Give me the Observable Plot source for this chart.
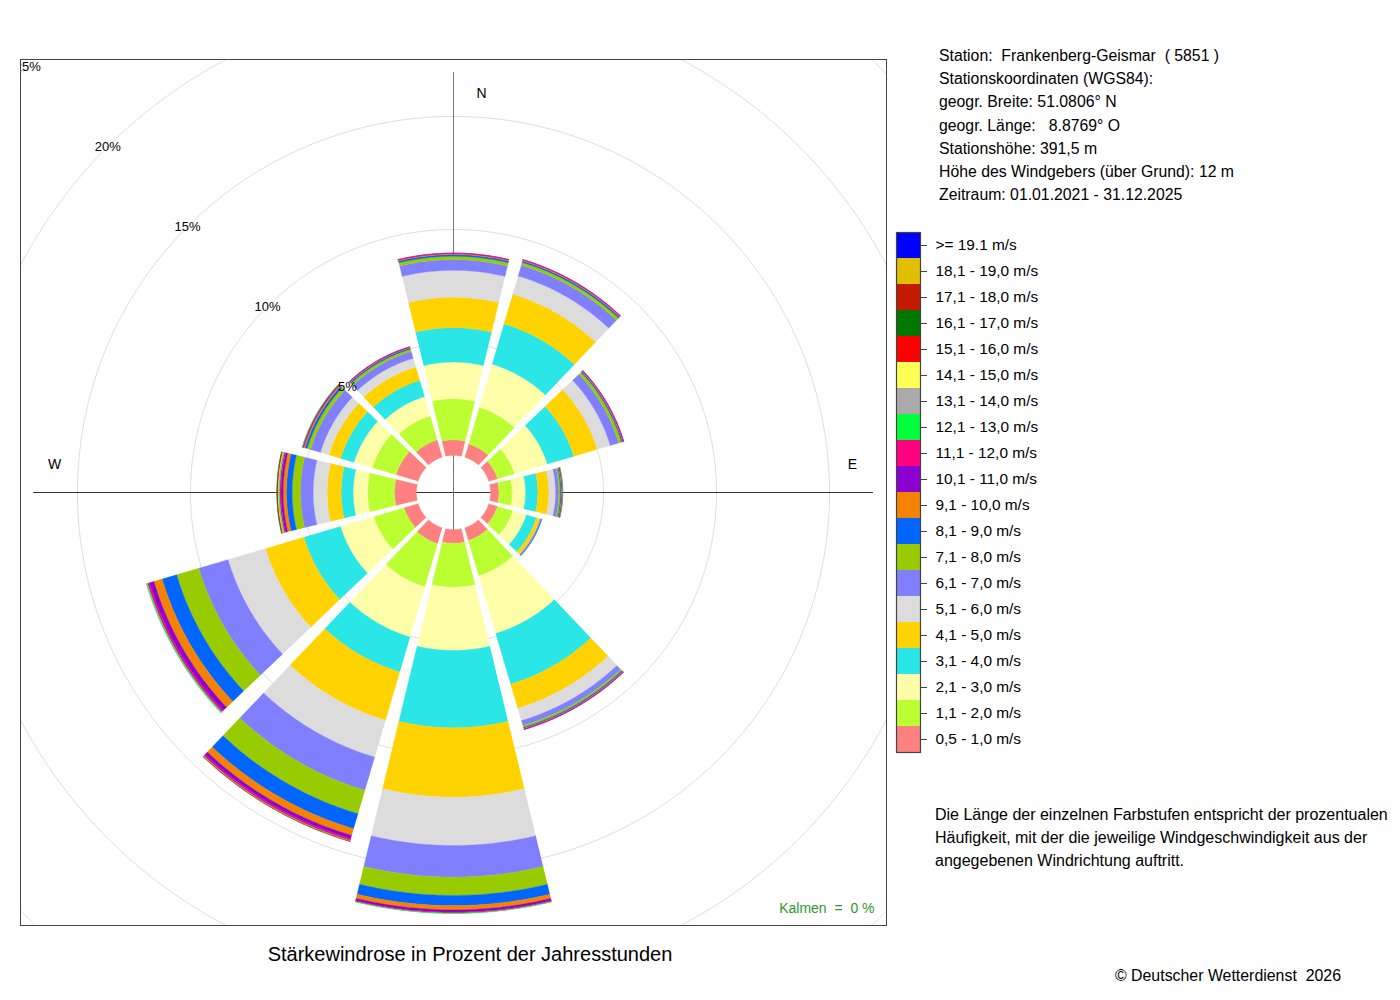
<!DOCTYPE html>
<html>
<head>
<meta charset="utf-8">
<script src="https://cdn.jsdelivr.net/npm/d3@7"></script>
<script src="https://cdn.jsdelivr.net/npm/@observablehq/plot@0.6"></script>
<style>
  html, body { margin: 0; padding: 0; background: #fff; }
  body { font-family: "Liberation Sans", Arial, Helvetica, sans-serif; color: #000; }
  #wrap { position: relative; width: 1400px; height: 1000px; overflow: hidden; background: #fff; }
  #rose, #legend { position: absolute; }
  #rose { left: 0; top: 0; }
  #legend { left: 890px; top: 228px; }
  .abs { position: absolute; white-space: pre; color: #000; }
  svg text { white-space: pre; }
</style>
</head>
<body>
<div id="wrap">
  <div id="rose"></div>
  <div id="legend"></div>
  <div class="abs" id="info" style="left:939px; top:44px; font-size:15.8px; line-height:23.2px;"></div>
  <div class="abs" id="note" style="left:935px; top:803px; font-size:16px; line-height:23px;"></div>
  <div class="abs" id="title" style="left:0; width:940px; text-align:center; top:942px; font-size:20px; line-height:24px;"></div>
  <div class="abs" id="copy" style="right:59px; top:966px; font-size:15.9px; line-height:20px;"></div>
</div>
<script>
// ---------------- data ----------------
const directions = ["N", "NNO", "ONO", "O", "OSO", "SSO", "S", "SSW", "WSW", "W", "WNW", "NNW"];
const directionAngles = [0, 30, 60, 90, 120, 150, 180, 210, 240, 270, 300, 330];

const classes = [
  "0,5 - 1,0 m/s", "1,1 - 2,0 m/s", "2,1 - 3,0 m/s", "3,1 - 4,0 m/s", "4,1 - 5,0 m/s",
  "5,1 - 6,0 m/s", "6,1 - 7,0 m/s", "7,1 - 8,0 m/s", "8,1 - 9,0 m/s", "9,1 - 10,0 m/s",
  "10,1 - 11,0 m/s", "11,1 - 12,0 m/s", "12,1 - 13,0 m/s", "13,1 - 14,0 m/s", "14,1 - 15,0 m/s",
  "15,1 - 16,0 m/s", "16,1 - 17,0 m/s", "17,1 - 18,0 m/s", "18,1 - 19,0 m/s", ">= 19.1 m/s"
];
const classColors = [
  "#FF8080", "#BBFF33", "#FFFFAA", "#2AE6E6", "#FFD200",
  "#DCDCDC", "#8080FF", "#99CC00", "#0066FF", "#F58200",
  "#8C00D2", "#FF0080", "#00FF3C", "#AAAAAA", "#FFFF55",
  "#FF0000", "#007800", "#C41A00", "#E0BE00", "#0000FF"
];

// percent of hours per speed class, in direction order N ... NNW
const s01 = [0.69, 0.61, 0.40, 0.37, 0.40, 0.58, 0.61, 0.73, 0.65, 0.97, 1.02, 0.80];
const s02 = [1.82, 1.69, 0.79, 0.59, 0.71, 1.63, 1.94, 2.00, 1.39, 1.19, 1.10, 1.10];
const s03 = [1.62, 1.99, 1.51, 0.59, 0.62, 2.66, 2.80, 2.31, 1.54, 0.64, 0.84, 0.89];
const s04 = [1.52, 1.86, 1.22, 0.54, 0.46, 2.34, 3.42, 1.61, 1.69, 0.53, 0.62, 0.75];
const s05 = [1.35, 1.37, 1.08, 0.49, 0.16, 1.11, 3.07, 2.23, 1.77, 0.62, 0.54, 0.62];
const s06 = [1.19, 0.84, 0.60, 0.30, 0.02, 0.57, 2.14, 1.70, 1.73, 0.62, 0.39, 0.40];
const s07 = [0.47, 0.49, 0.39, 0.14, 0.05, 0.23, 1.40, 1.53, 1.35, 0.56, 0.45, 0.31];
const s08 = [0.15, 0.13, 0.13, 0.07, 0.01, 0.08, 0.81, 1.08, 1.02, 0.37, 0.16, 0.11];
const s09 = [0.08, 0.07, 0.05, 0.04, 0.01, 0.05, 0.45, 0.69, 0.67, 0.25, 0.10, 0.06];
const s10 = [0.04, 0.04, 0.03, 0.03, 0.00, 0.03, 0.19, 0.31, 0.38, 0.15, 0.06, 0.03];
const s11 = [0.02, 0.02, 0.02, 0.02, 0.00, 0.02, 0.10, 0.15, 0.20, 0.09, 0.04, 0.02];
const s12 = [0.01, 0.01, 0.01, 0.01, 0.00, 0.01, 0.04, 0.08, 0.09, 0.06, 0.02, 0.01];
const s13 = [0.00, 0.00, 0.00, 0.01, 0.00, 0.00, 0.02, 0.03, 0.05, 0.04, 0.01, 0.00];
const s14 = [0.00, 0.00, 0.00, 0.00, 0.00, 0.00, 0.00, 0.01, 0.01, 0.03, 0.00, 0.00];
const s15 = [0.00, 0.00, 0.00, 0.00, 0.00, 0.00, 0.00, 0.00, 0.00, 0.02, 0.00, 0.00];
const s16 = [0.00, 0.00, 0.00, 0.00, 0.00, 0.00, 0.00, 0.01, 0.00, 0.03, 0.00, 0.00];
const s17 = [0.00, 0.00, 0.00, 0.00, 0.00, 0.00, 0.00, 0.00, 0.00, 0.01, 0.00, 0.00];
const s18 = [0.00, 0.00, 0.00, 0.00, 0.00, 0.00, 0.00, 0.00, 0.00, 0.00, 0.00, 0.00];
const s19 = [0.00, 0.00, 0.00, 0.00, 0.00, 0.00, 0.00, 0.00, 0.00, 0.00, 0.00, 0.00];
const s20 = [0.00, 0.00, 0.00, 0.00, 0.00, 0.00, 0.00, 0.00, 0.00, 0.00, 0.00, 0.00];
const seriesByClass = [s01, s02, s03, s04, s05, s06, s07, s08, s09, s10,
                       s11, s12, s13, s14, s15, s16, s17, s18, s19, s20];

const gridPercents = [5, 10, 15, 20, 25];
const compassNS = [{label: "N", angle: 0}];
const compassEW = [{label: "E", angle: 90}, {label: "W", angle: 270}];
const calmText = "Kalmen  =  0 %";

const infoLines = [
  "Station:  Frankenberg-Geismar  ( 5851 )",
  "Stationskoordinaten (WGS84):",
  "geogr. Breite: 51.0806° N",
  "geogr. Länge:   8.8769° O",
  "Stationshöhe: 391,5 m",
  "Höhe des Windgebers (über Grund): 12 m",
  "Zeitraum: 01.01.2021 - 31.12.2025"
];
const noteLines = [
  "Die Länge der einzelnen Farbstufen entspricht der prozentualen",
  "Häufigkeit, mit der die jeweilige Windgeschwindigkeit aus der",
  "angegebenen Windrichtung auftritt."
];
const titleText = "Stärkewindrose in Prozent der Jahresstunden";
const copyText = "© Deutscher Wetterdienst  2026";

// ---------------- geometry (in percent units) ----------------
const HOLE = 1.64;       // empty centre radius
const EXTENT = 19.16;    // half width of the square frame
const AXIS = 18.58;      // half length of the cross lines
const SECTOR_HALF = 15, GAP_HALF = 1.4, EDGE_OFFSET = 0.035;
const rad = Math.PI / 180;
const halfAngle = r => SECTOR_HALF - GAP_HALF - Math.asin(Math.min(1, EDGE_OFFSET / r)) / rad;
const polar = (r, a) => ({x: r * Math.sin(a * rad), y: r * Math.cos(a * rad)});

const bandPoints = [];
directions.forEach((dir, i) => {
  let cum = HOLE;
  classes.forEach((cls, k) => {
    const v = seriesByClass[k][i];
    if (!(v > 0)) return;
    const r0 = cum, r1 = cum + v;
    cum = r1;
    const id = dir + "|" + k;
    const c = directionAngles[i];
    const h1 = halfAngle(r1), h0 = halfAngle(r0);
    const n = 60;
    for (let j = 0; j <= n; j++) {
      const p = polar(r1, c - h1 + (2 * h1 * j) / n);
      bandPoints.push({id, cls, dir, x: p.x, y: p.y});
    }
    for (let j = n; j >= 0; j--) {
      const p = polar(r0, c - h0 + (2 * h0 * j) / n);
      bandPoints.push({id, cls, dir, x: p.x, y: p.y});
    }
  });
});

const circlePoints = [];
gridPercents.forEach(p => {
  for (let a = 0; a <= 360; a += 1) {
    const q = polar(HOLE + p, a);
    circlePoints.push({p, x: q.x, y: q.y});
  }
});

// ---------------- main rose ----------------
const font = '"Liberation Sans", Arial, Helvetica, sans-serif';
const rose = Plot.plot({
  width: 1400,
  height: 1000,
  marginLeft: 20,
  marginRight: 514,
  marginTop: 59,
  marginBottom: 75,
  style: {fontFamily: font, background: "transparent", color: "#000", overflow: "visible"},
  x: {domain: [-EXTENT, EXTENT], axis: null},
  y: {domain: [-EXTENT, EXTENT], axis: null},
  color: {type: "ordinal", domain: classes, range: classColors},
  marks: [
    Plot.line(circlePoints, {x: "x", y: "y", z: "p", stroke: "#dedede", strokeWidth: 1, clip: true}),
    Plot.ruleY([0], {x1: -AXIS, x2: AXIS, stroke: "#333", strokeWidth: 1}),
    Plot.ruleX([0], {y1: -AXIS, y2: AXIS, stroke: "#777", strokeWidth: 1}),
    Plot.line(bandPoints, {x: "x", y: "y", z: "id", fill: "cls", stroke: "cls", strokeWidth: 0.35, curve: "linear"}),
    Plot.text(gridPercents, {
      x: p => polar(HOLE + p, 315).x,
      y: p => polar(HOLE + p, 315).y,
      text: p => p + "%",
      fontSize: 13,
      fill: "#000",
      clip: true
    }),
    Plot.text(compassNS, {
      x: d => polar(AXIS - 0.93, d.angle).x,
      y: d => polar(AXIS - 0.93, d.angle).y,
      text: "label", dx: 28, fontSize: 14, fill: "#000"
    }),
    Plot.text(compassEW, {
      x: d => polar(AXIS - 0.93, d.angle).x,
      y: d => polar(AXIS - 0.93, d.angle).y,
      text: "label", dy: -28, fontSize: 14, fill: "#000"
    }),
    Plot.text([calmText], {
      frameAnchor: "bottom-right", text: d => d, textAnchor: "end",
      dx: -12, dy: -13, fontSize: 14, fill: "#2e962e"
    }),
    Plot.frame({stroke: "#444", strokeWidth: 1})
  ]
});
document.getElementById("rose").appendChild(rose);

// ---------------- legend ----------------
const legendOrder = classes.slice().reverse();
const legend = Plot.plot({
  width: 200,
  height: 528,
  marginLeft: 6,
  marginRight: 170,
  marginTop: 4,
  marginBottom: 4,
  style: {fontFamily: font, background: "transparent", color: "#000", fontSize: "15px", overflow: "visible"},
  x: {domain: [0, 1], axis: null},
  y: {type: "band", domain: legendOrder, padding: 0, axis: null},
  color: {type: "ordinal", domain: classes, range: classColors},
  marks: [
    Plot.barX(legendOrder, {x1: 0, x2: 1, y: d => d, fill: d => d}),
    Plot.axisY({anchor: "right", tickSize: 6, tickPadding: 9, label: null, fontSize: 15.4, stroke: "#444"}),
    Plot.frame({stroke: "#444", strokeWidth: 1.2})
  ]
});
document.getElementById("legend").appendChild(legend);

// ---------------- texts ----------------
document.getElementById("info").textContent = infoLines.join("\n");
document.getElementById("note").textContent = noteLines.join("\n");
document.getElementById("title").textContent = titleText;
document.getElementById("copy").textContent = copyText;
</script>
</body>
</html>
